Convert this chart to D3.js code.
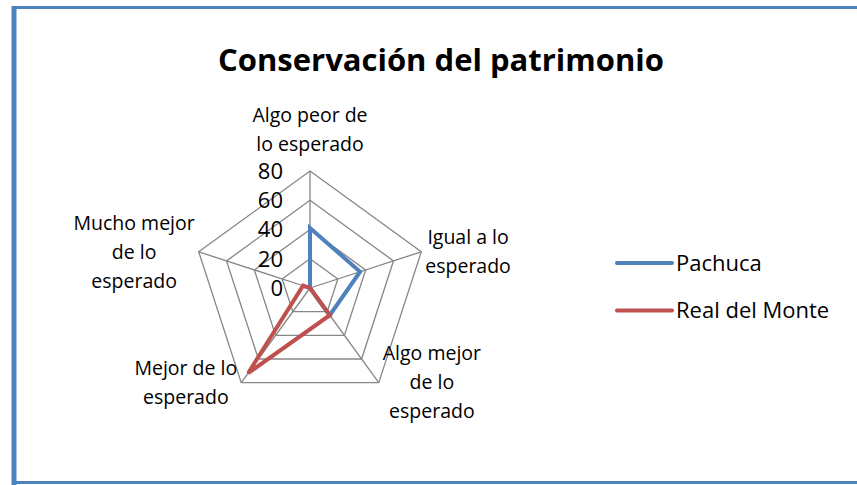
<!DOCTYPE html>
<html lang="es">
  <head>
    <meta charset="UTF-8" />
    <title>Conservación del patrimonio</title>
    <script src="https://d3js.org/d3.v7.min.js"></script>
    <style>
      body { margin: 0; background: #fff; }
      svg { display: block; font-family: "Open Sans", Lato, sans-serif; }
    </style>
  </head>
  <body>
    <svg id="chart" width="857" height="485"></svg>
    <script>
      // data (percentages)
      const categories = [
        "Algo peor de lo esperado",
        "Igual a lo esperado",
        "Algo mejor de lo esperado",
        "Mejor de lo esperado",
        "Mucho mejor de lo esperado",
      ];
      const categoryLines = [
        ["Algo peor de", "lo esperado"],
        ["Igual a lo", "esperado"],
        ["Algo mejor", "de lo", "esperado"],
        ["Mejor de lo", "esperado"],
        ["Mucho mejor", "de lo", "esperado"],
      ];
      const seriesNames = ["Pachuca", "Real del Monte"];
      const pachuca = [41, 36, 23, 0, 0];
      const realDelMonte = [0, 0, 23, 72, 5];
      const ticks = [0, 20, 40, 60, 80];
      const colors = ["#4F81BD", "#C0504D"];

      const svg = d3.select("#chart");
      const cx = 310, cy = 288, R = 117;

      // frame
      svg.append("rect")
        .attr("x", 13.5).attr("y", 7.5)
        .attr("width", 860).attr("height", 475)
        .attr("fill", "none").attr("stroke", "#4F81BD").attr("stroke-width", 3);
      svg.append("line")
        .attr("x1", 14).attr("x2", 14).attr("y1", 6).attr("y2", 485)
        .attr("stroke", "#4F81BD").attr("stroke-width", 5);

      svg.append("text")
        .attr("x", 441).attr("y", 71)
        .attr("text-anchor", "middle")
        .attr("font-size", 31).attr("font-weight", "bold")
        .attr("fill", "#000")
        .text("Conservación del patrimonio");

      const r = d3.scaleLinear().domain([0, 80]).range([0, R]);
      const angle = d3.scaleLinear().domain([0, categories.length]).range([0, 2 * Math.PI]);
      const pt = (i, v) => [cx + r(v) * Math.sin(angle(i)), cy - r(v) * Math.cos(angle(i))];

      // grid
      const grid = svg.append("g").attr("fill", "none").attr("stroke", "#868686").attr("stroke-width", 1.3);
      ticks.filter((t) => t > 0).forEach((t) => {
        grid.append("polygon")
          .attr("points", categories.map((c, i) => pt(i, t).join(",")).join(" "));
      });
      categories.forEach((c, i) => {
        const [x, y] = pt(i, 80);
        grid.append("line").attr("x1", cx).attr("y1", cy).attr("x2", x).attr("y2", y);
      });

      // tick labels
      svg.append("g").selectAll("text").data(ticks).join("text")
        .attr("x", cx - 27)
        .attr("y", (d) => cy - r(d))
        .attr("dy", "0.36em")
        .attr("text-anchor", "end")
        .attr("font-size", 22)
        .attr("fill", "#000")
        .text((d) => d);

      // series
      const line = d3.line().curve(d3.curveLinearClosed);
      [pachuca, realDelMonte].forEach((vals, s) => {
        svg.append("path")
          .attr("d", line(vals.map((v, i) => pt(i, v))))
          .attr("fill", "none")
          .attr("stroke", colors[s])
          .attr("stroke-width", 4)
          .attr("stroke-linejoin", "miter");
      });

      // category labels
      const lh = 29;
      categoryLines.forEach((lines, i) => {
        const [vx, vy] = pt(i, 80);
        const t = svg.append("text").attr("font-size", 19.5).attr("fill", "#000").attr("text-anchor", "middle");
        lines.forEach((l) => t.append("tspan").text(l));
        const w = d3.max(t.selectAll("tspan").nodes(), (n) => n.getComputedTextLength());
        let x, y0;
        if (i === 0) {
          x = vx;
          y0 = vy - 27 - (lines.length - 1) * lh;
        } else {
          const side = vx > cx ? 1 : -1;
          x = vx + side * (w / 2 + 4);
          y0 = vy - ((lines.length - 1) * lh) / 2;
        }
        t.selectAll("tspan")
          .attr("x", x)
          .attr("y", (d, k) => y0 + k * lh)
          .attr("dy", "0.35em");
      });

      // legend
      const legend = svg.append("g");
      seriesNames.forEach((name, s) => {
        const y = 263 + s * 47.5;
        legend.append("line")
          .attr("x1", 617).attr("x2", 672).attr("y1", y).attr("y2", y)
          .attr("stroke", colors[s]).attr("stroke-width", 4).attr("stroke-linecap", "round");
        legend.append("text")
          .attr("x", 676).attr("y", y).attr("dy", "0.35em")
          .attr("font-size", 22).attr("fill", "#000")
          .text(name);
      });
    </script>
  </body>
</html>
